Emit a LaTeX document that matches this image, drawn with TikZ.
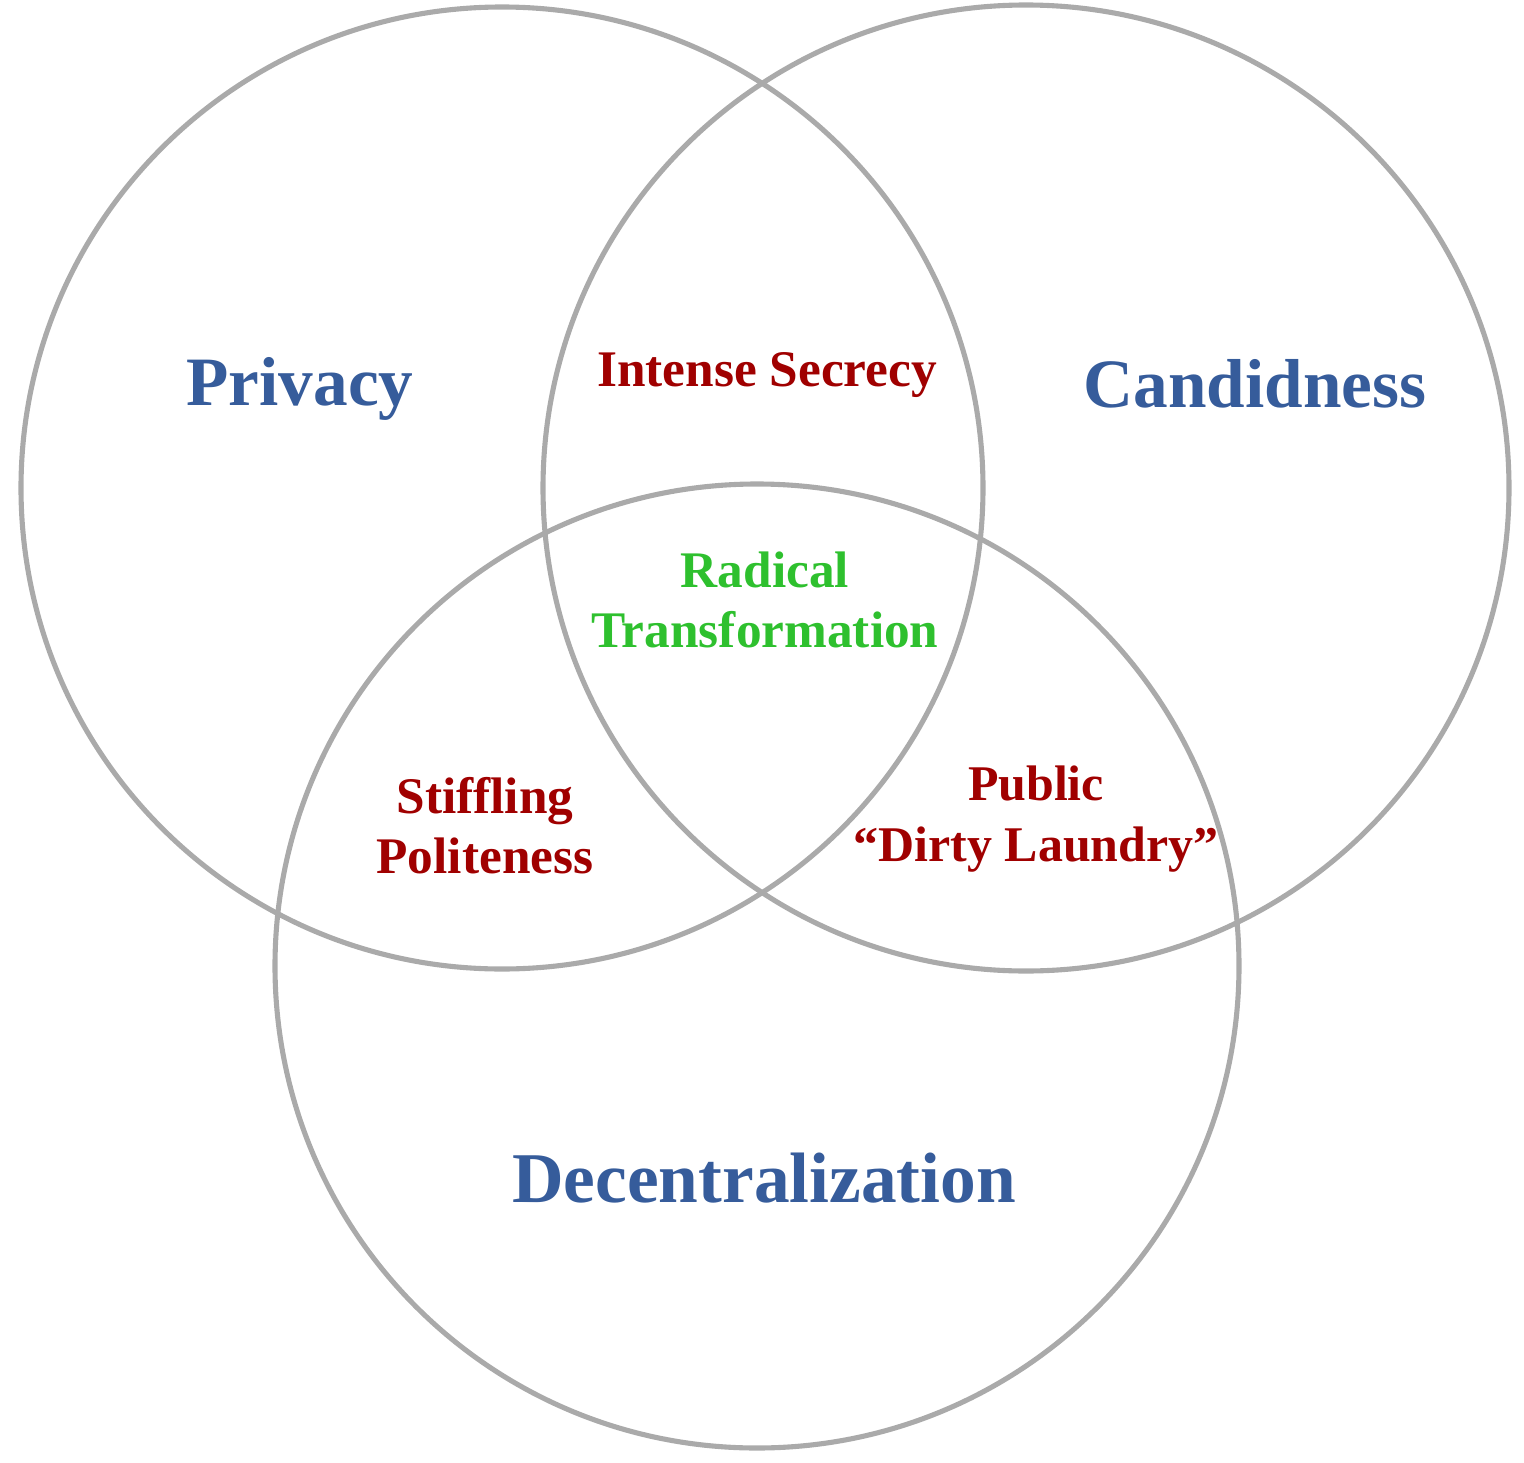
\documentclass[tikz,border=0pt]{standalone}
\usepackage{fontspec}
\setmainfont{Liberation Serif}
\definecolor{setblue}{HTML}{365C9B}
\definecolor{pairred}{HTML}{A00000}
\definecolor{coregreen}{HTML}{2EC02E}
\definecolor{ringgray}{HTML}{AAAAAA}

\begin{document}
\begin{tikzpicture}[x=0.01cm, y=0.01cm,
  ring/.style={draw=ringgray, line width=1.45pt},
  setlabel/.style={text=setblue, anchor=base, inner sep=0pt,
    font=\bfseries\fontsize{19.7}{22}\selectfont},
  pairlabel/.style={text=pairred, align=center, inner sep=0pt,
    font=\bfseries\fontsize{14.6}{17}\selectfont},
  corelabel/.style={pairlabel, text=coregreen}]
  \useasboundingbox (0,0) rectangle (1524,1462);
  % the three sets
  \draw[ring] (502,974) circle (481);
  \draw[ring] (1026,974) circle (483);
  \draw[ring] (757,496) circle (482);
  % names of the sets
  \node[setlabel] (privacy) at (300,1057) {Privacy};
  \node[setlabel] (candid) at (1255,1055) {Candidness};
  \node[setlabel, font=\bfseries\fontsize{20.3}{22}\selectfont] (decentral) at (764,260) {Decentralization};
  % pairwise overlaps
  \node[pairlabel, anchor=base] (secrecy) at (767,1076) {Intense Secrecy};
  \node[pairlabel] (polite) at (485,636) {Stiffling\\Politeness};
  \node[pairlabel, font=\bfseries\fontsize{14.2}{17.3}\selectfont] (laundry) at (1036,643) {Public\\“Dirty Laundry”};
  % all three
  \node[corelabel] (radical) at (765,862) {Radical\\Transformation};
\end{tikzpicture}
\end{document}
